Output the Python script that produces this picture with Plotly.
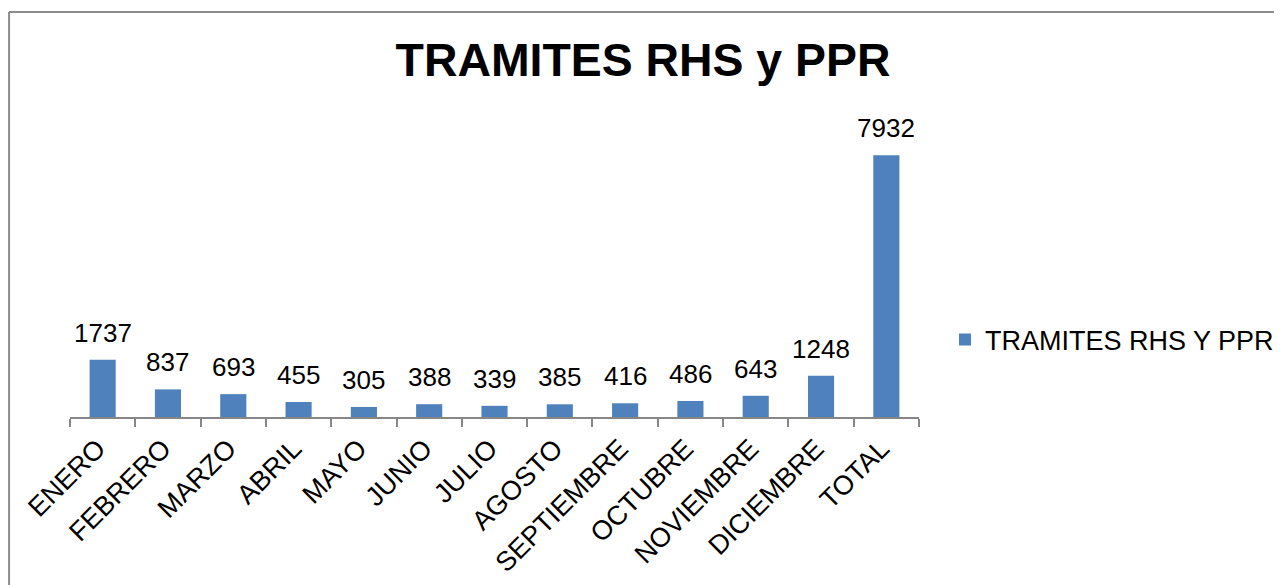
import plotly.graph_objects as go

categories = ["ENERO", "FEBRERO", "MARZO", "ABRIL", "MAYO", "JUNIO", "JULIO",
              "AGOSTO", "SEPTIEMBRE", "OCTUBRE", "NOVIEMBRE", "DICIEMBRE", "TOTAL"]
values = [1737, 837, 693, 455, 305, 388, 339, 385, 416, 486, 643, 1248, 7932]
series_name = "TRAMITES RHS Y PPR"
title_text = "TRAMITES RHS y PPR"

FONT = "Liberation Sans, Arial, sans-serif"
BAR_COLOR = "#4F81BD"
AXIS_COLOR = "#868686"

# page body adds an 8px offset; compensate in figure coordinates
OFF = 8
W, H = 1282, 585
ML, MT = 70 - OFF, 120 - OFF
PLOT_RIGHT, PLOT_BOTTOM = 920 - OFF, 417 - OFF
MR, MB = W - PLOT_RIGHT, H - PLOT_BOTTOM
PW, PH = PLOT_RIGHT - ML, PLOT_BOTTOM - MT


def px_x(p):
    return (p - OFF - ML) / PW


def px_y(p):
    return (PLOT_BOTTOM - (p - OFF)) / PH


fig = go.Figure()
fig.add_trace(go.Bar(
    x=categories, y=values, name=series_name,
    marker=dict(color=BAR_COLOR, line=dict(width=0)),
    showlegend=True,
))

for c, v in zip(categories, values):
    fig.add_annotation(x=c, y=v, text=str(v), showarrow=False,
                       yanchor="bottom", yshift=10,
                       font=dict(family=FONT, size=26, color="#000000"))

# chart-area border (left and top edges visible)
fig.add_shape(type="line", xref="paper", yref="paper",
              x0=px_x(9), x1=px_x(1300), y0=px_y(12), y1=px_y(12),
              line=dict(color="#8C8C8C", width=2))
fig.add_shape(type="line", xref="paper", yref="paper",
              x0=px_x(9), x1=px_x(9), y0=px_y(12), y1=px_y(620),
              line=dict(color="#8C8C8C", width=2))

fig.update_layout(
    width=W, height=H,
    margin=dict(l=ML, r=MR, t=MT, b=MB),
    paper_bgcolor="white", plot_bgcolor="white",
    bargap=0.6,
    font=dict(family=FONT, color="#000000"),
    title=dict(text="<b>" + title_text + "</b>", x=(643 - OFF) / W, xref="container",
               xanchor="center", y=1 - (60 - OFF) / H, yref="container", yanchor="middle",
               font=dict(family=FONT, size=46.4, color="#000000")),
    legend=dict(x=px_x(945), y=px_y(340), xanchor="left", yanchor="middle",
                font=dict(family=FONT, size=27, color="#000000"),
                bgcolor="rgba(0,0,0,0)", itemwidth=30),
    xaxis=dict(showline=True, linecolor=AXIS_COLOR, linewidth=2,
               ticks="outside", tickson="boundaries", ticklen=8,
               tickcolor=AXIS_COLOR, tickwidth=2, tickangle=-45,
               ticklabelshift=-5, ticklabelstandoff=3,
               tickfont=dict(family=FONT, size=27, color="#000000"),
               showgrid=False, zeroline=False),
    yaxis=dict(range=[0, 9000], visible=False, showgrid=False, zeroline=False),
)

fig.write_html("out.html")
